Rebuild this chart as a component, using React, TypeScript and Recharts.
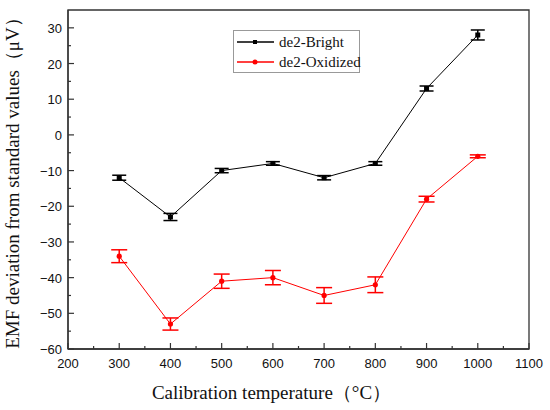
import * as React from "react";
import {
  LineChart,
  Line,
  XAxis,
  YAxis,
  ErrorBar,
  Legend,
  ReferenceArea,
} from "recharts";

// calibration temperatures (°C)
const temps = [300, 400, 500, 600, 700, 800, 900, 1000];
// EMF deviation (µV)
const bright = [-12, -23, -10, -8, -12, -8, 13, 28];
const brightErr = [0.7, 1.0, 0.6, 0.5, 0.6, 0.5, 0.7, 1.4];
const oxidized = [-34, -53, -41, -40, -45, -42, -18, -6];
const oxidizedErr = [1.8, 1.7, 2.0, 2.0, 2.2, 2.2, 0.8, 0.4];

// major + minor ticks; only majors get labels
const xTicks = [200, 250, 300, 350, 400, 450, 500, 550, 600, 650, 700, 750, 800, 850, 900, 950, 1000, 1050, 1100];
const xMajor = [200, 300, 400, 500, 600, 700, 800, 900, 1000, 1100];
const yTicks = [-60, -55, -50, -45, -40, -35, -30, -25, -20, -15, -10, -5, 0, 5, 10, 15, 20, 25, 30];
const yMajor = [-60, -50, -40, -30, -20, -10, 0, 10, 20, 30];

const data = temps.map((t, i) => ({
  t,
  bright: bright[i],
  brightErr: brightErr[i],
  oxidized: oxidized[i],
  oxidizedErr: oxidizedErr[i],
}));

const SANS = "'Liberation Sans', Arial, sans-serif";
const SERIF = "'Liberation Serif', 'Times New Roman', serif";
const AXIS = "#333";
const RED = "#ff0000";

const fmtNum = (v: number) => (v < 0 ? "\u2212" + Math.abs(v) : String(v));

function XTick(props: any) {
  const { x, y, payload } = props;
  const major = xMajor.includes(payload.value);
  const base = y - 8; // axis line (tickMargin = 8)
  return (
    <g>
      <line x1={x} x2={x} y1={base} y2={base - (major ? 6 : 3)} stroke={AXIS} strokeWidth={1.2} />
      {major && (
        <text x={x} y={base + 19} textAnchor="middle" fontFamily={SANS} fontSize={13} fill="#111">
          {payload.value}
        </text>
      )}
    </g>
  );
}

function YTick(props: any) {
  const { x, y, payload } = props;
  const major = yMajor.includes(payload.value);
  const base = x + 6; // axis line (tickMargin = 6)
  return (
    <g>
      <line x1={base} x2={base + (major ? 6 : 3)} y1={y} y2={y} stroke={AXIS} strokeWidth={1.2} />
      {major && (
        <text x={x} y={y + 5} textAnchor="end" fontFamily={SANS} fontSize={13} fill="#111">
          {fmtNum(payload.value)}
        </text>
      )}
    </g>
  );
}

function renderLegend(props: any) {
  const items = props.payload || [];
  return (
    <div
      style={{
        border: "1px solid #999",
        background: "#fff",
        width: 127,
        height: 43,
        padding: "1px 0",
        boxSizing: "border-box",
        whiteSpace: "nowrap",
      }}
    >
      {items.map((it: any) => (
        <div key={it.value} style={{ display: "flex", alignItems: "center", height: 20 }}>
          <svg width={38} height={20} style={{ marginLeft: 2, flex: "none" }}>
            <line x1={1} x2={38} y1={10} y2={10} stroke={it.color} strokeWidth={1.3} />
            {it.value === "de2-Bright" ? (
              <rect x={17} y={8} width={4} height={4} fill={it.color} />
            ) : (
              <circle cx={19} cy={10} r={2.5} fill={it.color} />
            )}
          </svg>
          <span style={{ fontFamily: SERIF, fontSize: 15, color: "#111", marginLeft: 5 }}>{it.value}</span>
        </div>
      ))}
    </div>
  );
}

const Square = (props: any) => {
  const { cx, cy } = props;
  if (cx == null || cy == null) return <g />;
  return <rect x={cx - 2.5} y={cy - 2.5} width={5} height={5} fill="#000" />;
};

export default function App() {
  return (
    <div style={{ width: 550, height: 410, background: "#fff" }}>
      <style>{"body{margin:0}"}</style>
      <LineChart width={550} height={410} data={data} margin={{ top: 10, right: 21, bottom: 0, left: 0 }}>
        <ReferenceArea x1={200} x2={1100} y1={-60} y2={35} fill="none" stroke={AXIS} strokeWidth={1.3} />
        <XAxis
          dataKey="t"
          type="number"
          domain={[200, 1100]}
          ticks={xTicks}
          interval={0}
          height={61}
          tickLine={false}
          tickSize={0}
          tickMargin={8}
          axisLine={{ stroke: AXIS, strokeWidth: 1.3 }}
          tick={<XTick />}
          label={(p: any) => {
            const vb = p.viewBox;
            return (
              <text
                x={vb.x + vb.width / 2 - 27}
                y={vb.y + 50}
                textAnchor="middle"
                fontFamily={SERIF}
                fontSize={19}
                fill="#111"
              >
                Calibration temperature（°C）
              </text>
            );
          }}
        />
        <YAxis
          type="number"
          domain={[-60, 35]}
          ticks={yTicks}
          interval={0}
          width={68}
          tickLine={false}
          tickSize={0}
          tickMargin={6}
          axisLine={{ stroke: AXIS, strokeWidth: 1.3 }}
          tick={<YTick />}
          label={(p: any) => {
            const vb = p.viewBox;
            const cx = vb.x + 12;
            const cy = vb.y + vb.height / 2 - 1;
            return (
              <text
                x={cx}
                y={cy}
                transform={`rotate(-90 ${cx} ${cy})`}
                textAnchor="middle"
                dominantBaseline="central"
                fontFamily={SERIF}
                fontSize={19}
                fill="#111"
              >
                EMF deviation from standard values（μV）
              </text>
            );
          }}
        />
        <Legend
          content={renderLegend}
          layout="vertical"
          verticalAlign="middle"
          align="center"
          wrapperStyle={{ left: 233, top: 30, width: 127 }}
        />
        <Line
          name="de2-Bright"
          dataKey="bright"
          stroke="#000"
          strokeWidth={1}
          dot={<Square />}
          activeDot={false}
          isAnimationActive={false}
        >
          <ErrorBar dataKey="brightErr" direction="y" width={7} stroke="#000" strokeWidth={1.5} />
        </Line>
        <Line
          name="de2-Oxidized"
          dataKey="oxidized"
          stroke={RED}
          strokeWidth={1}
          dot={{ r: 2.6, fill: RED, stroke: RED, strokeWidth: 0 }}
          activeDot={false}
          isAnimationActive={false}
        >
          <ErrorBar dataKey="oxidizedErr" direction="y" width={8} stroke={RED} strokeWidth={1.5} />
        </Line>
      </LineChart>
    </div>
  );
}
